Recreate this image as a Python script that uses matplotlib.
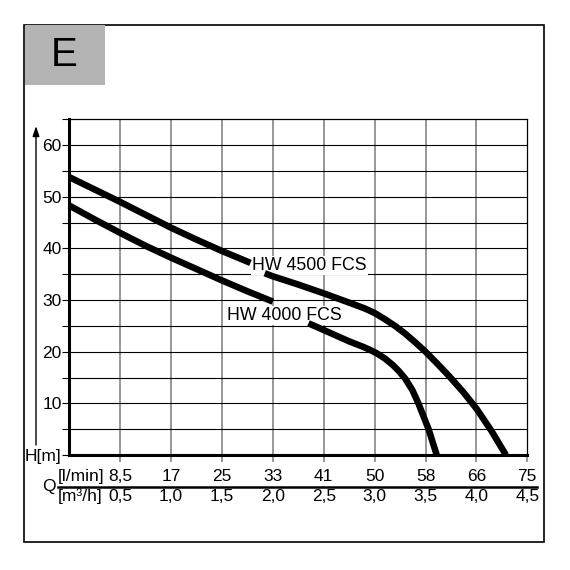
import matplotlib
matplotlib.use("Agg")
import matplotlib.pyplot as plt
from matplotlib.patches import Rectangle
from matplotlib.lines import Line2D
import matplotlib.transforms as mtransforms

plt.rcParams['font.family'] = ['Liberation Sans', 'DejaVu Sans']

# ---------------- data ----------------
panel_letter = "E"
q_ticks_m3h = [0.5, 1.0, 1.5, 2.0, 2.5, 3.0, 3.5, 4.0, 4.5]
q_labels_lmin = ["8,5", "17", "25", "33", "41", "50", "58", "66", "75"]
q_labels_m3h = ["0,5", "1,0", "1,5", "2,0", "2,5", "3,0", "3,5", "4,0", "4,5"]
h_ticks = [0, 5, 10, 15, 20, 25, 30, 35, 40, 45, 50, 55, 60, 65]
h_labels = ["H[m]", "", "10", "", "20", "", "30", "", "40", "", "50", "", "60", ""]

hw4500_name = "HW 4500 FCS"
hw4500_q1 = [0.0, 0.25, 0.5, 0.75, 1.0, 1.25, 1.5, 1.78]
hw4500_h1 = [53.8, 51.4, 49.0, 46.5, 44.0, 41.7, 39.5, 37.2]
hw4500_q2 = [1.92, 2.0, 2.25, 2.5, 2.75, 2.9, 3.0, 3.1, 3.2, 3.3, 3.4, 3.5, 3.62, 3.74, 3.87, 4.0, 4.15, 4.29]
hw4500_h2 = [35.2, 34.6, 33.0, 31.3, 29.5, 28.4, 27.5, 26.3, 25.0, 23.5, 21.8, 20.0, 17.6, 15.1, 12.2, 9.0, 4.6, 0.0]

hw4000_name = "HW 4000 FCS"
hw4000_q1 = [0.0, 0.25, 0.5, 0.75, 1.0, 1.25, 1.5, 1.75, 2.0]
hw4000_h1 = [48.3, 45.6, 43.0, 40.5, 38.2, 36.0, 33.8, 31.7, 29.7]
hw4000_q2 = [2.35, 2.5, 2.75, 2.88, 2.95, 3.02, 3.10, 3.18, 3.24, 3.30, 3.37, 3.43, 3.48, 3.53, 3.57, 3.61]
hw4000_h2 = [25.5, 24.2, 22.0, 21.0, 20.4, 19.7, 18.7, 17.4, 16.2, 14.8, 12.6, 10.0, 7.5, 5.0, 2.5, 0.0]

# ---------------- figure ----------------
W = H = 570
fig = plt.figure(figsize=(W / 100, H / 100), dpi=100)

def fx(px):
    return px / W

def fy(py):
    return 1 - py / H

# outer frame
fig.patches.append(Rectangle((fx(24.3), fy(541.7)), fx(544.3) - fx(24.3), fy(25) - fy(541.7),
                             transform=fig.transFigure, fill=False, ec='black', lw=1.2))
# grey letter box
fig.patches.append(Rectangle((fx(25), fy(84.5)), fx(105) - fx(25), fy(25) - fy(84.5),
                             transform=fig.transFigure, fc='#b4b4b4', ec='none'))
fig.text(fx(64), fy(55), panel_letter, fontsize=29, ha='center', va='center', color='black')

# axes
x0, x1, ytop, ybot = 69.3, 527.3, 119.3, 455.0
ax = fig.add_axes([fx(x0), fy(ybot), fx(x1) - fx(x0), fy(ytop) - fy(ybot)])
ax.set_xlim(0, 4.5)
ax.set_ylim(0, 65)

# grid lines
for q in q_ticks_m3h[:-1]:
    ax.axvline(q, color='#7a7a7a', lw=1.1, zorder=1)
for h in h_ticks[1:-1]:
    ax.axhline(h, color='black', lw=0.8, zorder=1)

ax.spines['left'].set_linewidth(2.2)
ax.spines['bottom'].set_linewidth(2.2)
ax.spines['top'].set_linewidth(0.9)
ax.spines['right'].set_linewidth(0.9)
for s in ax.spines.values():
    s.set_color('black')
    s.set_zorder(6)

ax.set_yticks(h_ticks)
ax.set_yticklabels(h_labels)
ax.tick_params(axis='y', direction='out', length=5, width=0.8, color='black', pad=0.5,
               labelsize=12.5)
ax.set_xticks(q_ticks_m3h)
ax.set_xticklabels([])
ax.tick_params(axis='x', direction='out', length=5, width=1.1, color='#7a7a7a')

# label texts with white background (hide grid behind them)
box = dict(facecolor='white', edgecolor='none', pad=0.8)
ax.text(1.80, 35.8, hw4500_name, fontsize=12.8, ha='left', va='baseline', bbox=box, zorder=3)
ax.text(1.546, 26.1, hw4000_name, fontsize=12.8, ha='left', va='baseline', bbox=box, zorder=3)

# curves
lw = 4.7
style = dict(color='black', lw=lw, solid_capstyle='butt', solid_joinstyle='round', zorder=4,
             clip_on=False)
ax.plot(hw4500_q1, hw4500_h1, **style)
ax.plot(hw4500_q2, hw4500_h2, **style)
ax.plot(hw4000_q1, hw4000_h1, **style)
ax.plot(hw4000_q2, hw4000_h2, **style)

# x labels (two rows)
trans = mtransforms.blended_transform_factory(ax.transData, fig.transFigure)
for q, l1, l2 in zip(q_ticks_m3h, q_labels_lmin, q_labels_m3h):
    ax.text(q, fy(480.7), l1, transform=trans, fontsize=12.5, ha='center', va='baseline')
    ax.text(q, fy(500.7), l2, transform=trans, fontsize=12.5, ha='center', va='baseline')

fig.text(fx(58), fy(480.7), "[l/min]", fontsize=12.5, ha='left', va='baseline')
fig.text(fx(58), fy(500.7), "[m³/h]", fontsize=12.5, ha='left', va='baseline')
fig.text(fx(48.5), fy(487), "Q", fontsize=12.5, ha='center', va='center')

# separator line between unit rows
fig.lines.append(Line2D([fx(58), fx(537)], [fy(486.7), fy(486.7)], transform=fig.transFigure,
                        color='black', lw=1.8))

# y axis arrow
ax_arrow = fig.add_axes([0, 0, 1, 1], facecolor='none')
ax_arrow.set_axis_off()
ax_arrow.set_xlim(0, 1)
ax_arrow.set_ylim(0, 1)
ax_arrow.annotate('', xy=(fx(36), fy(126)), xytext=(fx(36), fy(445)),
                  arrowprops=dict(arrowstyle='-|>,head_length=0.6,head_width=0.2',
                                  color='black', lw=1.0, shrinkA=0, shrinkB=0))

fig.savefig("out.png", dpi=100)
